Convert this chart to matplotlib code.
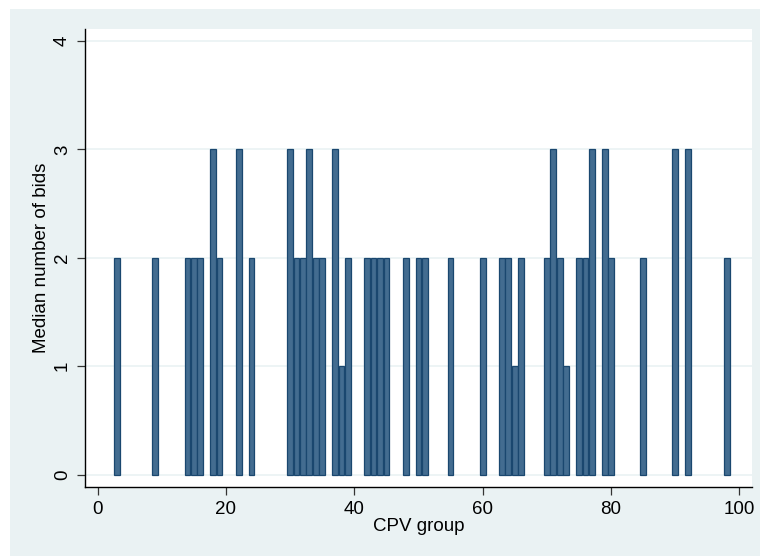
import matplotlib
matplotlib.use("Agg")
import matplotlib.pyplot as plt
from matplotlib.patches import Rectangle

# CPV group -> median number of bids
cpv_group = [3, 9, 14, 15, 16, 18, 19, 22, 24, 30, 31, 32, 33, 34, 35, 37, 38, 39,
             42, 43, 44, 45, 48, 50, 51, 55, 60, 63, 64, 65, 66, 70, 71, 72, 73,
             75, 76, 77, 79, 80, 85, 90, 92, 98]
median_bids = [2, 2, 2, 2, 2, 3, 2, 3, 2, 3, 2, 2, 3, 2, 2, 3, 1, 2,
               2, 2, 2, 2, 2, 2, 2, 2, 2, 2, 2, 1, 2, 2, 3, 2, 1,
               2, 2, 3, 3, 2, 2, 3, 3, 2]
x_ticks = [0, 20, 40, 60, 80, 100]
y_ticks = [0, 1, 2, 3, 4]

bg = '#EAF2F3'
plt.rcParams['font.family'] = ['Liberation Sans', 'DejaVu Sans']

fig = plt.figure(figsize=(7.6, 5.56), dpi=100)
fig.patch.set_facecolor('white')
# stata graph region (screenshot has a thin white margin top/left)
fig.add_artist(Rectangle((10 / 760, 0), 1, 1 - 9 / 556, transform=fig.transFigure,
                         facecolor=bg, edgecolor='none', zorder=-10))

ax = fig.add_axes([85 / 760, 69 / 556, 667 / 760, 458 / 556])
ax.set_facecolor('white')
ax.bar(cpv_group, median_bids, width=0.9, color='#436C90', edgecolor='#1A476F',
       linewidth=0.9, zorder=3)

ax.set_xlim(-1.95, 101.95)
ax.set_ylim(-0.114, 4.11)
ax.set_xticks(x_ticks)
ax.set_yticks(y_ticks)
ax.set_yticklabels([str(v) for v in y_ticks], rotation=90, va='center')
ax.tick_params(axis='both', direction='out', length=6, width=0.9, labelsize=13.5,
               color='#333333', pad=4)
ax.grid(axis='y', color=bg, linewidth=1.2, zorder=0)
ax.set_axisbelow(True)
for s in ['top', 'right']:
    ax.spines[s].set_visible(False)
for s in ['left', 'bottom']:
    ax.spines[s].set_color('black')
    ax.spines[s].set_linewidth(1.0)

ax.set_xlabel('CPV group', fontsize=13.5, labelpad=0)
ax.set_ylabel('Median number of bids', fontsize=13.5, labelpad=3)

fig.savefig('out.png', dpi=100, facecolor=fig.get_facecolor())
